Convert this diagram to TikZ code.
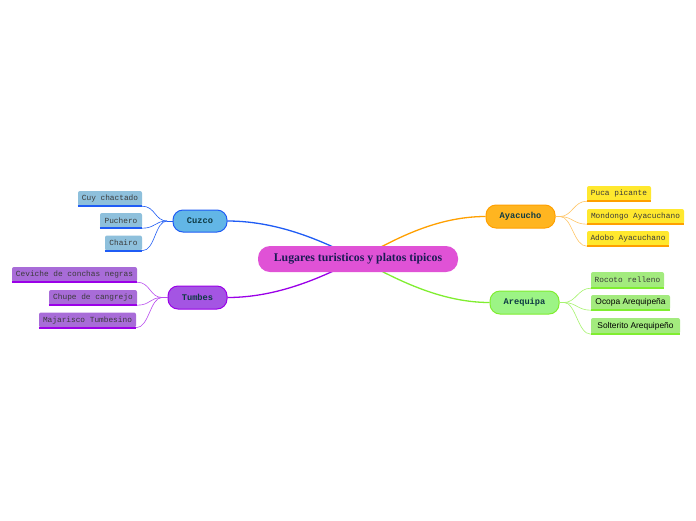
\documentclass[tikz,border=0pt]{standalone}
\usepackage{fontspec}
\setmainfont{Liberation Serif}
\setsansfont{Liberation Sans}
\setmonofont{Liberation Mono}
\usetikzlibrary{backgrounds}
\definecolor{cpink}{HTML}{E052D6}
\definecolor{ctxt}{HTML}{1B1B55}
\definecolor{ttxt}{HTML}{0E3A44}
\definecolor{ltxt}{HTML}{3A3A3A}
\definecolor{bfill}{HTML}{62B6E6}
\definecolor{bline}{HTML}{1F5CF5}
\definecolor{blf}{HTML}{8EC0DC}
\definecolor{pfill}{HTML}{A455E3}
\definecolor{pline}{HTML}{9B00E8}
\definecolor{plf}{HTML}{A86CD8}
\definecolor{ofill}{HTML}{FFB520}
\definecolor{oline}{HTML}{FFA000}
\definecolor{olf}{HTML}{FFE82E}
\definecolor{gfill}{HTML}{9CF485}
\definecolor{gline}{HTML}{80EE30}
\definecolor{glf}{HTML}{A3EB7E}
\tikzset{
  central/.style={fill=cpink, rounded corners=12pt, minimum width=200pt, minimum height=26pt, inner sep=0pt, text=ctxt, font=\fontsize{11.8}{13}\selectfont\bfseries},
  topic/.style={rounded corners=10pt, line width=1pt, minimum height=22pt, inner sep=0pt, text=ttxt, font=\fontsize{8.7}{10}\selectfont\ttfamily\bfseries},
  leaf/.style={rounded corners=2pt, minimum height=15pt, inner sep=0pt, text=ltxt, font=\fontsize{7.8}{9}\selectfont\ttfamily},
  sleaf/.style={leaf, text=black, font=\fontsize{8.4}{9}\selectfont\sffamily},
  mainline/.style={line width=1.3pt},
  subline/.style={line width=0.6pt},
}
\begin{document}
\begin{tikzpicture}[x=1pt,y=-1pt]
\useasboundingbox (0,0) rectangle (696,520);
% central and topics
\node[central] (c) at (358,259) {Lugares turisticos y platos tipicos};
\node[topic, fill=bfill, draw=bline, minimum width=54pt] (cuz) at (200,221) {Cuzco};
\node[topic, fill=pfill, draw=pline, minimum width=59pt, minimum height=23pt] (tum) at (197.5,297.5) {Tumbes};
\node[topic, fill=ofill, draw=oline, minimum width=69pt, minimum height=23pt] (aya) at (520.5,216.5) {Ayacucho};
\node[topic, fill=gfill, draw=gline, minimum width=69pt, minimum height=23pt] (are) at (524.5,302.5) {Arequipa};
% leaves Cuzco
\node[leaf, fill=blf, minimum width=64pt] (cuy) at (110,198.5) {Cuy chactado};
\node[leaf, fill=blf, minimum width=42pt] (puc) at (121,220.5) {Puchero};
\node[leaf, fill=blf, minimum width=37pt] (cha) at (123.5,243) {Chairo};
% leaves Tumbes
\node[leaf, fill=plf, minimum width=125pt] (cev) at (74.5,274.5) {Ceviche de conchas negras};
\node[leaf, fill=plf, minimum width=88pt] (chu) at (93,297.5) {Chupe de cangrejo};
\node[leaf, fill=plf, minimum width=97pt] (maj) at (87.5,320) {Majarisco Tumbesino};
% leaves Ayacucho
\node[leaf, fill=olf, minimum width=64pt] (puca) at (619,193.5) {Puca picante};
\node[leaf, fill=olf, minimum width=97pt] (mon) at (635.5,216.5) {Mondongo Ayacuchano};
\node[leaf, fill=olf, minimum width=82pt] (ado) at (628,238.5) {Adobo Ayacuchano};
% leaves Arequipa
\node[leaf, fill=glf, minimum width=73pt, minimum height=16pt] (roc) at (627.5,280) {Rocoto relleno};
\node[sleaf, fill=glf, minimum width=79pt] (oco) at (630.5,302.5) {Ocopa Arequipeña};
\node[sleaf, fill=glf, minimum width=89pt, minimum height=16pt] (sol) at (635.5,326) {Solterito Arequipeño};
% underlines
\foreach \n in {cuy,puc,cha} \draw[bline, line width=1.6pt] (\n.south west) -- (\n.south east);
\foreach \n in {cev,chu,maj} \draw[pline, line width=1.6pt] (\n.south west) -- (\n.south east);
\foreach \n in {puca,mon,ado} \draw[oline, line width=1.6pt] (\n.south west) -- (\n.south east);
\foreach \n in {roc,oco,sol} \draw[gline, line width=1.6pt] (\n.south west) -- (\n.south east);
% junctions
\coordinate (jcuz) at (167,221);
\coordinate (jtum) at (162,297.5);
\coordinate (jaya) at (560,216.5);
\coordinate (jare) at (564,302.5);
\begin{scope}[on background layer]
\fill[white] (0,0) rectangle (696,520);
\draw[mainline, bline] (cuz.east) .. controls +(55,0) and (330,245) .. (c.center);
\draw[mainline, pline] (tum.east) .. controls +(55,0) and (330,273) .. (c.center);
\draw[mainline, oline] (aya.west) .. controls +(-55,0) and (386,245) .. (c.center);
\draw[mainline, gline] (are.west) .. controls +(-55,0) and (386,273) .. (c.center);
\end{scope}
% leaf connectors
\foreach \n in {cuy,puc,cha} \draw[subline, bline] (\n.south east) .. controls +(13,0) and +(-12,0) .. (jcuz);
\draw[subline, bline] (jcuz) -- (cuz.west);
\foreach \n in {cev,chu,maj} \draw[subline, pline!70] (\n.south east) .. controls +(13,0) and +(-12,0) .. (jtum);
\draw[subline, pline!70] (jtum) -- (tum.west);
\foreach \n in {puca,mon,ado} \draw[subline, oline!60] (\n.south west) .. controls +(-13,0) and +(12,0) .. (jaya);
\draw[subline, oline!60] (jaya) -- (aya.east);
\foreach \n in {roc,oco,sol} \draw[subline, gline!70] (\n.south west) .. controls +(-13,0) and +(12,0) .. (jare);
\draw[subline, gline!70] (jare) -- (are.east);
\end{tikzpicture}
\end{document}
